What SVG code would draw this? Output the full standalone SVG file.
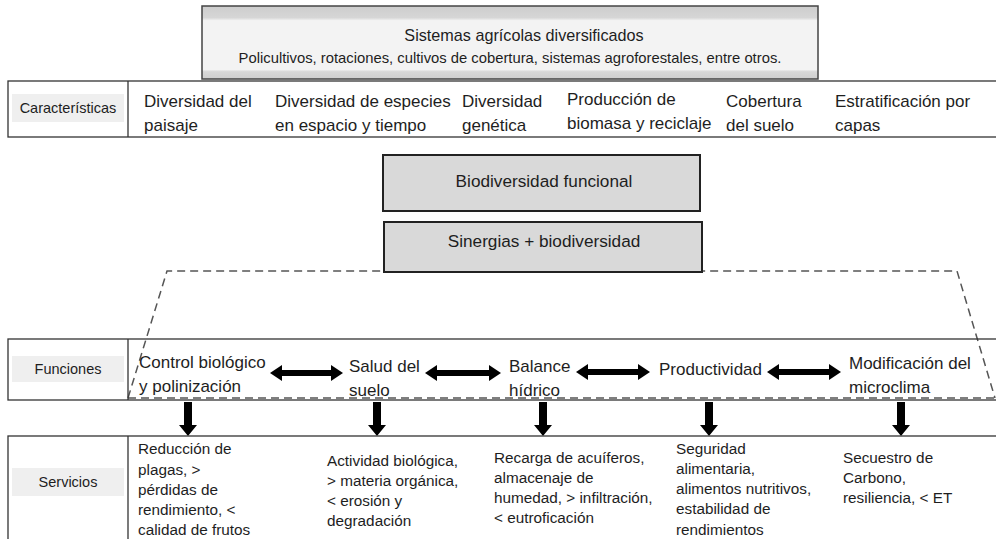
<svg xmlns="http://www.w3.org/2000/svg" width="996" height="539" viewBox="0 0 996 539">
<defs>
<linearGradient id="topg" x1="0" y1="0" x2="0" y2="1">
<stop offset="0" stop-color="#cdcdcd"/>
<stop offset="0.16" stop-color="#d6d6d6"/>
<stop offset="0.2" stop-color="#f3f3f3"/>
<stop offset="0.87" stop-color="#f3f3f3"/>
<stop offset="0.9" stop-color="#d8d8d8"/>
<stop offset="1" stop-color="#cfcfcf"/>
</linearGradient>
<style>
text{font-family:"Liberation Sans",Arial,sans-serif;fill:#1e1e1e}
.row{fill:#fff;stroke:#333;stroke-width:1.3}
.div{stroke:#333;stroke-width:1.3}
.lab{fill:#efefef}
.labt{font-size:14.5px;text-anchor:middle}
.it{font-size:17px}
.sv{font-size:15.3px}
.box{fill:#d9d9d9;stroke:#222;stroke-width:2}
.bt{font-size:17.2px;text-anchor:middle}
.arr{fill:#000}
.dash{fill:none;stroke:#555;stroke-width:1.5;stroke-dasharray:8 5}
</style>
</defs>
<rect width="996" height="539" fill="#fff"/>

<g id="sistemas">
<rect x="202" y="6" width="616" height="73" fill="url(#topg)" stroke="#444" stroke-width="1.5"/>
<text x="524" y="41" font-size="16.2" text-anchor="middle">Sistemas agrícolas diversificados</text>
<text x="510" y="63" font-size="14.8" text-anchor="middle">Policultivos, rotaciones, cultivos de cobertura, sistemas agroforestales, entre otros.</text>
</g>

<g id="caracteristicas">
<rect class="row" x="8" y="81" width="990" height="56"/>
<line class="div" x1="128" y1="81" x2="128" y2="137"/>
<rect class="lab" x="12" y="94" width="112" height="28"/>
<text class="labt" x="68" y="113">Características</text>
<text class="it" x="144" y="107">Diversidad del</text>
<text class="it" x="144" y="131">paisaje</text>
<text class="it" x="275" y="107">Diversidad de especies</text>
<text class="it" x="275" y="131">en espacio y tiempo</text>
<text class="it" x="462" y="107">Diversidad</text>
<text class="it" x="462" y="131">genética</text>
<text class="it" x="567" y="105">Producción de</text>
<text class="it" x="567" y="129">biomasa y reciclaje</text>
<text class="it" x="726" y="107">Cobertura</text>
<text class="it" x="726" y="131">del suelo</text>
<text class="it" x="835" y="107">Estratificación por</text>
<text class="it" x="835" y="131">capas</text>
</g>

<g id="connectors">
<path class="dash" d="M128,398 L167,271 L957,271 L995,398"/>
<line class="dash" x1="128" y1="398" x2="996" y2="398"/>
</g>

<g id="biodiversidad">
<rect class="box" x="383" y="155" width="317" height="56"/>
<text class="bt" x="544" y="187">Biodiversidad funcional</text>
</g>

<g id="sinergias">
<rect class="box" x="384" y="222" width="318" height="50"/>
<text class="bt" x="544" y="247">Sinergias + biodiversidad</text>
</g>

<g id="funciones">
<rect x="8" y="339" width="990" height="61" fill="none" stroke="#333" stroke-width="1.3"/>
<line class="div" x1="128" y1="339" x2="128" y2="400"/>
<rect class="lab" x="12" y="356" width="112" height="26"/>
<text class="labt" x="68" y="374">Funciones</text>
<text class="it" x="139" y="368">Control biológico</text>
<text class="it" x="139" y="392">y polinización</text>
<text class="it" x="349" y="372">Salud del</text>
<text class="it" x="349" y="396">suelo</text>
<text class="it" x="509" y="372">Balance</text>
<text class="it" x="509" y="396">hídrico</text>
<text class="it" x="659" y="375">Productividad</text>
<text class="it" x="849" y="369">Modificación del</text>
<text class="it" x="849" y="393">microclima</text>
</g>

<g id="arrows">
<polygon class="arr" points="270,373 282,365 282,370 331,370 331,365 343,373 331,381 331,376 282,376 282,381"/>
<polygon class="arr" points="425,373 437,365 437,370 489,370 489,365 501,373 489,381 489,376 437,376 437,381"/>
<polygon class="arr" points="576,372 588,364 588,369 638,369 638,364 650,372 638,380 638,375 588,375 588,380"/>
<polygon class="arr" points="767,372 779,364 779,369 829,369 829,364 841,372 829,380 829,375 779,375 779,380"/>
<polygon class="arr" points="184,402 192,402 192,425 197,425 188,436 179,425 184,425"/>
<polygon class="arr" points="373,402 381,402 381,425 386,425 377,436 368,425 373,425"/>
<polygon class="arr" points="539,402 547,402 547,425 552,425 543,436 534,425 539,425"/>
<polygon class="arr" points="705,402 713,402 713,425 718,425 709,436 700,425 705,425"/>
<polygon class="arr" points="897,402 905,402 905,425 910,425 901,436 892,425 897,425"/>
</g>

<g id="servicios">
<rect class="row" x="8" y="436" width="990" height="112"/>
<line class="div" x1="128" y1="436" x2="128" y2="539"/>
<rect class="lab" x="12" y="468" width="112" height="28"/>
<text class="labt" x="68" y="487">Servicios</text>
<text class="sv" x="138" y="454">Reducción de</text>
<text class="sv" x="138" y="475">plagas, &gt;</text>
<text class="sv" x="138" y="495">pérdidas de</text>
<text class="sv" x="138" y="515">rendimiento, &lt;</text>
<text class="sv" x="138" y="535">calidad de frutos</text>
<text class="sv" x="327" y="466">Actividad biológica,</text>
<text class="sv" x="327" y="486">&gt; materia orgánica,</text>
<text class="sv" x="327" y="506">&lt; erosión y</text>
<text class="sv" x="327" y="526">degradación</text>
<text class="sv" x="494" y="463">Recarga de acuíferos,</text>
<text class="sv" x="494" y="483">almacenaje de</text>
<text class="sv" x="494" y="503">humedad, &gt; infiltración,</text>
<text class="sv" x="494" y="523">&lt; eutroficación</text>
<text class="sv" x="676" y="454">Seguridad</text>
<text class="sv" x="676" y="474">alimentaria,</text>
<text class="sv" x="676" y="494">alimentos nutritivos,</text>
<text class="sv" x="676" y="514">estabilidad de</text>
<text class="sv" x="676" y="535">rendimientos</text>
<text class="sv" x="843" y="463">Secuestro de</text>
<text class="sv" x="843" y="483">Carbono,</text>
<text class="sv" x="843" y="503">resiliencia, &lt; ET</text>
</g>
</svg>
